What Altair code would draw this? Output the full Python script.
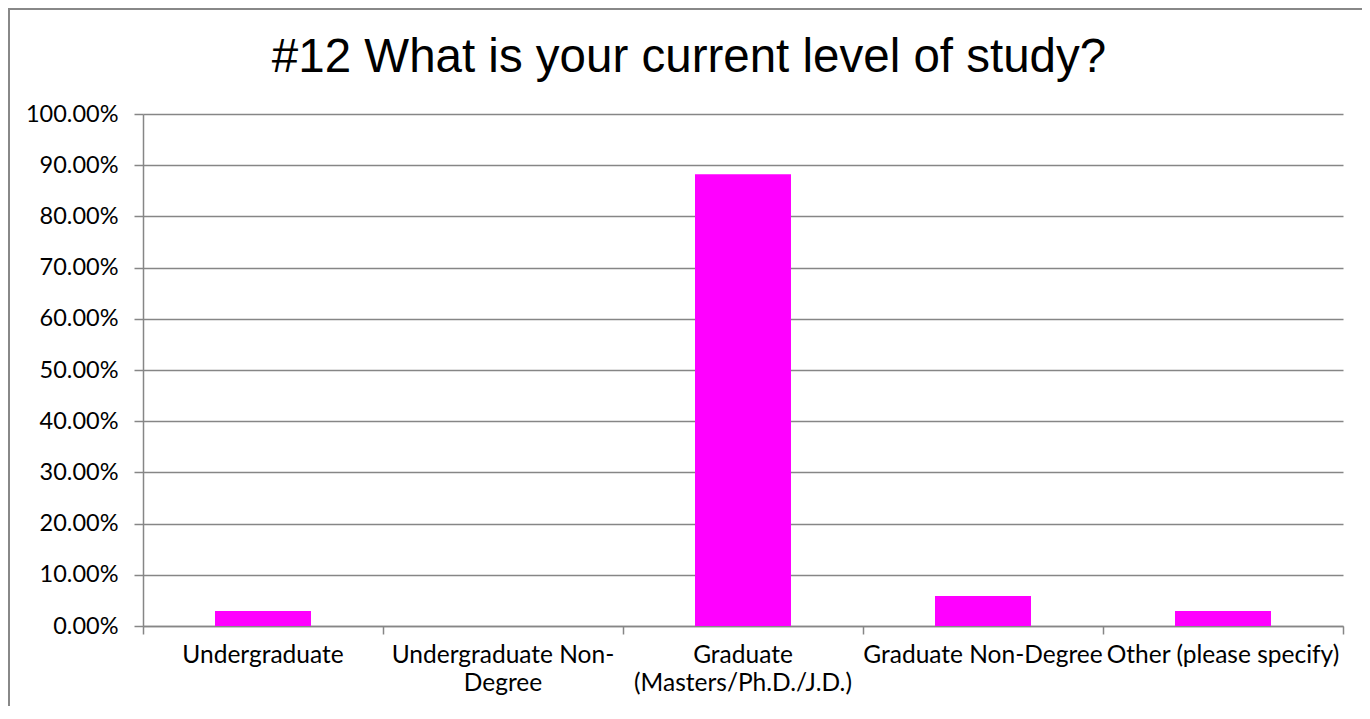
import altair as alt
import pandas as pd

categories = [
    "Undergraduate",
    "Undergraduate Non-Degree",
    "Graduate (Masters/Ph.D./J.D.)",
    "Graduate Non-Degree",
    "Other (please specify)",
]
values = [0.0294, 0.0, 0.8824, 0.0588, 0.0294]
y_ticks = [0, 0.1, 0.2, 0.3, 0.4, 0.5, 0.6, 0.7, 0.8, 0.9, 1.0]
boundary_ticks = [0, 1, 2, 3, 4, 5]

df = pd.DataFrame({"cat": categories, "val": values, "idx": list(range(len(categories)))})

GRAY = "#868686"
FONT = "Lato"

label_expr = (
    "datum.label == 'Undergraduate Non-Degree' ? ['Undergraduate Non-', 'Degree'] : "
    "datum.label == 'Graduate (Masters/Ph.D./J.D.)' ? ['Graduate', '(Masters/Ph.D./J.D.)'] : datum.label"
)

y_axis = alt.Axis(
    title=None,
    orient="left",
    values=y_ticks,
    format=".2%",
    grid=True,
    gridColor=GRAY,
    gridWidth=1.5,
    domainColor=GRAY,
    domainWidth=1.5,
    tickColor=GRAY,
    tickWidth=1.5,
    tickSize=9,
    labelFont=FONT,
    labelFontSize=23.5,
    labelColor="black",
    labelPadding=16,
)

bars = alt.Chart(df).mark_bar(color="#FF00FF").encode(
    x=alt.X(
        "cat:N",
        sort=categories,
        scale=alt.Scale(paddingInner=0.6, paddingOuter=0.3),
        axis=alt.Axis(
            title=None,
            orient="bottom",
            labelAngle=0,
            ticks=False,
            domain=False,
            labelExpr=label_expr,
            labelFont=FONT,
            labelFontSize=24.5,
            labelColor="black",
            labelPadding=17,
            labelLineHeight=28,
            labelLimit=400,
        ),
    ),
    y=alt.Y("val:Q", scale=alt.Scale(domain=[0, 1]), axis=y_axis),
)

tick_layer = alt.Chart(df).mark_point(opacity=0).encode(
    x=alt.X(
        "idx:Q",
        scale=alt.Scale(domain=[0, 5], nice=False, zero=False),
        axis=alt.Axis(
            title=None,
            orient="bottom",
            values=boundary_ticks,
            labels=False,
            grid=False,
            domainColor=GRAY,
            domainWidth=1.5,
            tickColor=GRAY,
            tickWidth=1.5,
            tickSize=8,
        ),
    ),
    y=alt.Y("val:Q", scale=alt.Scale(domain=[0, 1]), axis=y_axis),
)

border = alt.Chart(df).mark_rect(
    fill=None, stroke="#888888", strokeWidth=2, clip=False
).encode(
    x=alt.value(-134), x2=alt.value(1240), y=alt.value(-105), y2=alt.value(620)
)

chart = (
    alt.layer(bars, tick_layer, border)
    .resolve_scale(x="independent")
    .properties(
        width=1200,
        height=512,
        autosize=alt.AutoSizeParams(type="none"),
        padding={"left": 135, "top": 106, "right": 19, "bottom": 80},
        title=alt.TitleParams(
            "#12 What is your current level of study?",
            font="Liberation Sans",
            fontSize=47.5,
            fontWeight="normal",
            color="black",
            anchor="middle",
            baseline="alphabetic",
            dx=-54,
            offset=-111,
        ),
    )
    .configure_view(stroke=None)
)

chart.save("out.html", embed_options={"renderer": "svg", "actions": False})
